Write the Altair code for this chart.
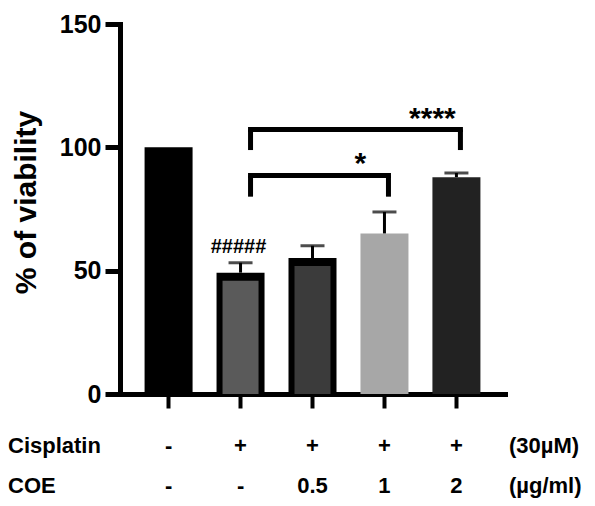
import altair as alt
import pandas as pd
import numpy as np

# datos
grupos = ["Control", "Cisplatin", "Cis+COE 0.5", "Cis+COE 1", "Cis+COE 2"]
viabilidad = [100, 49.2, 55.1, 65.1, 87.9]
sem = [0, 4.0, 5.0, 8.7, 1.7]
rellenos = ["#000000", "#5a5a5a", "#3b3b3b", "#a7a7a7", "#222222"]
con_borde = [False, True, True, False, False]

fila_cisplatin = ["-", "+", "+", "+", "+"]
fila_coe = ["-", "-", "0.5", "1", "2"]
filas_nombre = ["Cisplatin", "COE"]
filas_unidad = ["(30µM)", "(µg/ml)"]

llave_desde = ["Cisplatin", "Cisplatin"]
llave_hasta = ["Cis+COE 1", "Cis+COE 2"]
llave_arriba = [88.6, 107.2]
llave_abajo = [80.0, 98.9]
llave_estrellas = ["*", "****"]

grupo_hash = "Cisplatin"
texto_hash = "#####"

FUENTE = "Liberation Sans"

df = pd.DataFrame({
    "grupo": grupos,
    "viab": viabilidad,
    "sem": sem,
    "relleno": rellenos,
    "borde": con_borde,
})
df["orilla"] = np.where(df["borde"], "#000000", df["relleno"])
df["sup"] = df["viab"] + df["sem"]

llaves = pd.DataFrame({
    "desde": llave_desde,
    "hasta": llave_hasta,
    "arriba": llave_arriba,
    "abajo": llave_abajo,
    "estrellas": llave_estrellas,
})

escala_x = alt.Scale(domain=grupos, paddingInner=0.33, paddingOuter=0.34)
eje_x = alt.Axis(labels=False, ticks=True, tickSize=14, tickWidth=4,
                 domainWidth=5, domainColor="black", tickColor="black",
                 grid=False, title=None)
escala_y = alt.Scale(domain=[0, 150], nice=False)
eje_y = alt.Axis(values=[0, 50, 100, 150], grid=False, title="% of viability")


def x_enc(campo):
    return alt.X(f"{campo}:N", scale=escala_x, axis=eje_x, sort=grupos)


def y_enc(campo):
    return alt.Y(f"{campo}:Q", scale=escala_y, axis=eje_y, stack=None)


# barras: primero la silueta, luego el relleno interior de las que tienen borde
barras = alt.Chart(df).mark_bar(width=48).encode(
    x=x_enc("grupo"),
    y=y_enc("viab"),
    color=alt.Color("orilla:N", scale=None),
)

interior = alt.Chart(df[df["borde"]]).mark_bar(width=36, yOffset=8).encode(
    x=x_enc("grupo"),
    y=y_enc("viab"),
    color=alt.Color("relleno:N", scale=None),
)

df_err = df[df["sem"] > 0]
tallo = alt.Chart(df_err).mark_rule(strokeWidth=3, color="black").encode(
    x=x_enc("grupo"),
    y=y_enc("viab"),
    y2="sup:Q",
)
tapa = alt.Chart(df_err).mark_tick(thickness=3, size=24, color="black").encode(
    x=x_enc("grupo"),
    y=y_enc("sup"),
)

hash_txt = alt.Chart(df[df["grupo"] == grupo_hash]).mark_text(
    text=texto_hash, font=FUENTE, fontSize=20, fontWeight="bold",
    baseline="middle", dy=-16, dx=-2, color="black"
).encode(
    x=x_enc("grupo"),
    y=y_enc("sup"),
)

# llaves de significancia
horizontal = alt.Chart(llaves).mark_rule(
    strokeWidth=5, color="black", xOffset=10, x2Offset=4, strokeCap="square"
).encode(
    x=x_enc("desde"),
    x2="hasta:N",
    y=y_enc("arriba"),
)
pata_izq = alt.Chart(llaves).mark_rule(strokeWidth=5, color="black", xOffset=10).encode(
    x=x_enc("desde"),
    y=y_enc("abajo"),
    y2="arriba:Q",
)
pata_der = alt.Chart(llaves).mark_rule(strokeWidth=5, color="black", xOffset=4).encode(
    x=x_enc("hasta"),
    y=y_enc("abajo"),
    y2="arriba:Q",
)
estrellas = alt.Chart(llaves).mark_text(
    font=FUENTE, fontSize=30, fontWeight="bold", baseline="middle", dx=-24, dy=-11, color="black"
).encode(
    x=x_enc("hasta"),
    y=y_enc("arriba"),
    text="estrellas:N",
)

# tabla de tratamientos debajo del eje
capas_tabla = []
fila_y = [422, 462]
for nombre, unidad, celdas, yy in zip(filas_nombre, filas_unidad, [fila_cisplatin, fila_coe], fila_y):
    d = pd.DataFrame({"grupo": grupos, "celda": celdas, "nombre": nombre, "unidad": unidad})
    capas_tabla.append(alt.Chart(d).mark_text(
        font=FUENTE, fontSize=22, fontWeight="bold", baseline="middle", color="black"
    ).encode(x=x_enc("grupo"), y=alt.value(yy), text="celda:N"))
    capas_tabla.append(alt.Chart(d.head(1)).mark_text(
        font=FUENTE, fontSize=22, fontWeight="bold", baseline="middle", align="left", color="black"
    ).encode(x=alt.value(-112), y=alt.value(yy), text="nombre:N"))
    capas_tabla.append(alt.Chart(d.head(1)).mark_text(
        font=FUENTE, fontSize=22, fontWeight="bold", baseline="middle", align="left", color="black"
    ).encode(x=alt.value(389), y=alt.value(yy), text="unidad:N"))

chart = alt.layer(
    barras, interior, tallo, tapa, hash_txt, horizontal, pata_izq, pata_der, estrellas,
    *capas_tabla
).properties(
    width=385,
    height=370,
    padding={"left": 112, "top": 16, "right": 82, "bottom": 104},
    autosize=alt.AutoSizeParams(type="none"),
).configure_view(
    stroke=None
).configure_axisY(
    domainWidth=5, domainColor="black", domainCap="square",
    tickSize=15, tickWidth=5, tickColor="black",
    labelFont=FUENTE, labelFontSize=25, labelFontWeight="bold", labelColor="black", labelPadding=4,
    titleFont=FUENTE, titleFontSize=30, titleFontWeight="bold", titleColor="black",
    titleX=-94, titleY=178, titleBaseline="middle", titleAngle=-90,
).configure_axisX(
    domainCap="square",
)

chart.save("out.html", embed_options={"renderer": "svg", "actions": False})
